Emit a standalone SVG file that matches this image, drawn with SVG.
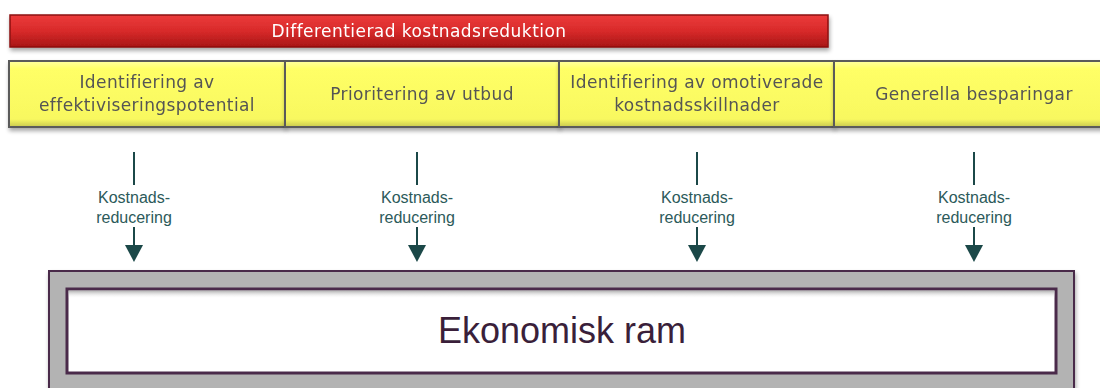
<svg xmlns="http://www.w3.org/2000/svg" width="1100" height="388" viewBox="0 0 1100 388">
<defs>
<linearGradient id="red" x1="0" y1="0" x2="0" y2="1">
<stop offset="0" stop-color="#ec3b3b"/>
<stop offset="0.5" stop-color="#d82a2a"/>
<stop offset="1" stop-color="#a81616"/>
</linearGradient>
<linearGradient id="yel" x1="0" y1="0" x2="0" y2="1">
<stop offset="0" stop-color="#ffffa0"/>
<stop offset="0.12" stop-color="#ffff66"/>
<stop offset="0.88" stop-color="#f8f860"/>
<stop offset="1" stop-color="#c8c850"/>
</linearGradient>
<linearGradient id="inshade" x1="0" y1="0" x2="0" y2="1">
<stop offset="0" stop-color="#999" stop-opacity="0.8"/>
<stop offset="1" stop-color="#fff" stop-opacity="0"/>
</linearGradient>
<filter id="sh" x="-5%" y="-20%" width="110%" height="150%">
<feGaussianBlur in="SourceAlpha" stdDeviation="2"/>
<feOffset dx="1" dy="3"/>
<feComponentTransfer><feFuncA type="linear" slope="0.35"/></feComponentTransfer>
<feMerge><feMergeNode/><feMergeNode in="SourceGraphic"/></feMerge>
</filter>
<style>
.ytxt{font-family:"DejaVu Sans",Verdana,sans-serif;font-size:17px;fill:#545454;text-anchor:middle;letter-spacing:0.4px}
.ybox{fill:url(#yel);stroke:#5a5a5a;stroke-width:2}
.conn{stroke:#1b4848;stroke-width:2;fill:none}
.head{fill:#1b4848}
.ctxt{font-family:"Liberation Sans",Arial,sans-serif;font-size:16px;fill:#2c5a5a;text-anchor:middle}
</style>
</defs>

<g id="banner" filter="url(#sh)">
<rect x="10" y="15" width="818" height="32" fill="url(#red)" stroke="#8c1010" stroke-width="1.5"/>
<text x="419" y="37" font-family="DejaVu Sans,Verdana,sans-serif" font-size="17" fill="#ffffff" text-anchor="middle" letter-spacing="0.45">Differentierad kostnadsreduktion</text>
</g>

<g id="node1" filter="url(#sh)">
<rect class="ybox" x="9" y="61" width="276" height="66"/>
<text class="ytxt" x="147" y="88">Identifiering av</text>
<text class="ytxt" x="147" y="111">effektiviseringspotential</text>
</g>
<g id="node2" filter="url(#sh)">
<rect class="ybox" x="285" y="61" width="274" height="66"/>
<text class="ytxt" x="422" y="100">Prioritering av utbud</text>
</g>
<g id="node3" filter="url(#sh)">
<rect class="ybox" x="559" y="61" width="275" height="66"/>
<text class="ytxt" x="697" y="88">Identifiering av omotiverade</text>
<text class="ytxt" x="697" y="111">kostnadsskillnader</text>
</g>
<g id="node4" filter="url(#sh)">
<rect class="ybox" x="834" y="61" width="280" height="66"/>
<text class="ytxt" x="974" y="100">Generella besparingar</text>
</g>

<g id="connectors">
<line class="conn" x1="134" y1="152" x2="134" y2="185"/>
<line class="conn" x1="134" y1="227" x2="134" y2="246"/>
<polygon class="head" points="125,245 143,245 134,262"/>
<text class="ctxt" x="134" y="203">Kostnads-</text>
<text class="ctxt" x="134" y="223">reducering</text>

<line class="conn" x1="417" y1="152" x2="417" y2="185"/>
<line class="conn" x1="417" y1="227" x2="417" y2="246"/>
<polygon class="head" points="408,245 426,245 417,262"/>
<text class="ctxt" x="417" y="203">Kostnads-</text>
<text class="ctxt" x="417" y="223">reducering</text>

<line class="conn" x1="697" y1="152" x2="697" y2="185"/>
<line class="conn" x1="697" y1="227" x2="697" y2="246"/>
<polygon class="head" points="688,245 706,245 697,262"/>
<text class="ctxt" x="697" y="203">Kostnads-</text>
<text class="ctxt" x="697" y="223">reducering</text>

<line class="conn" x1="974" y1="152" x2="974" y2="185"/>
<line class="conn" x1="974" y1="227" x2="974" y2="246"/>
<polygon class="head" points="965,245 983,245 974,262"/>
<text class="ctxt" x="974" y="203">Kostnads-</text>
<text class="ctxt" x="974" y="223">reducering</text>
</g>

<g id="ram">
<rect x="49" y="271" width="1025" height="130" fill="#b3b3b3" stroke="#4a2a4a" stroke-width="2" filter="url(#sh)"/>
<rect x="67" y="289" width="989" height="84" fill="#ffffff" stroke="#4a2a4a" stroke-width="3"/>
<rect x="68.5" y="290.5" width="986" height="8" fill="url(#inshade)"/>
<text x="562" y="343" font-family="Liberation Sans,Arial,sans-serif" font-size="36" fill="#3a1f3a" text-anchor="middle">Ekonomisk ram</text>
</g>
</svg>
